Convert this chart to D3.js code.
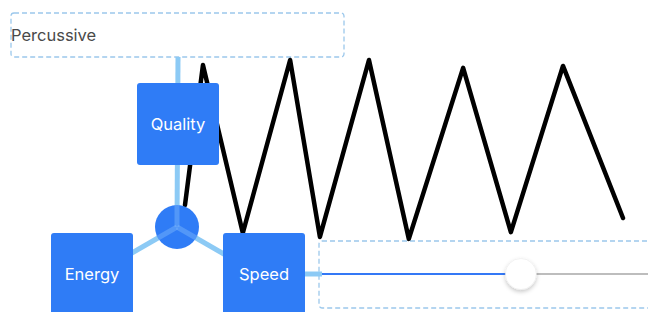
<!DOCTYPE html>
<html>
<head>
<meta charset="utf-8">
<script src="https://cdn.jsdelivr.net/npm/d3@7"></script>
<style>
  html, body { margin: 0; padding: 0; background: #fff; }
  svg { display: block; }
</style>
</head>
<body>
<script>
// Waveform drawn (position 0..100, amplitude 0..100)
const waveX = [0, 4.1, 13.2, 24.0, 30.8, 42.0, 51.1, 63.5, 74.4, 86.3, 100];
const waveY = [19.4, 97.2, 3.9, 100, 1.7, 100, 0.6, 95.6, 4.4, 96.7, 12.2];

// Node labels
const hubNodes = ["Quality", "Energy", "Speed"];
const headerLabel = "Percussive";
// Slider value (0..1)
const sliderValue = 0.61;

const W = 648, H = 312;
const svg = d3.select("body").append("svg").attr("width", W).attr("height", H);

const defs = svg.append("defs");
const f = defs.append("filter").attr("id", "shadow").attr("x", "-50%").attr("y", "-50%").attr("width", "200%").attr("height", "200%");
f.append("feDropShadow").attr("dx", 0).attr("dy", 2).attr("stdDeviation", 2).attr("flood-color", "#000").attr("flood-opacity", 0.22);

const blue = "#2f7cf6";
const light = "#8ccaf5";
const dash = "#9cc8ec";
const font = "Inter, 'Open Sans', sans-serif";

const x = d3.scaleLinear().domain([0, 100]).range([185, 623]);
const y = d3.scaleLinear().domain([0, 100]).range([240, 60]);

// Hub geometry
const hub = { cx: 177, cy: 227, r: 22 };
const boxSize = 82;
const boxes = [
  { label: hubNodes[0], x: 137, y: 83 },
  { label: hubNodes[1], x: 51, y: 233 },
  { label: hubNodes[2], x: 223, y: 233 }
];

// Header box (dashed)
svg.append("rect").attr("x", 11).attr("y", 13).attr("width", 333).attr("height", 44)
  .attr("rx", 3).attr("fill", "#fff").attr("stroke", dash).attr("stroke-width", 1.3)
  .attr("stroke-dasharray", "5,3");
svg.append("text").attr("x", 11).attr("y", 41).text(headerLabel)
  .attr("font-family", font).attr("font-size", 16.5)
  .attr("fill", "#4a4a4a");

// Slider box (dashed)
svg.append("rect").attr("x", 319).attr("y", 241).attr("width", 340).attr("height", 67)
  .attr("rx", 3).attr("fill", "#fff").attr("stroke", dash).attr("stroke-width", 1.3)
  .attr("stroke-dasharray", "5,3");

// Connectors
const conn = svg.append("g").attr("stroke", light).attr("stroke-width", 5).attr("fill", "none");
conn.append("line").attr("x1", 178).attr("y1", 57).attr("x2", hub.cx).attr("y2", hub.cy);
const spokeLen = 58;
[210, 330].forEach(a => {
  const r = a * Math.PI / 180;
  conn.append("line").attr("x1", hub.cx).attr("y1", hub.cy)
    .attr("x2", hub.cx + spokeLen * Math.cos(r)).attr("y2", hub.cy - spokeLen * Math.sin(r));
});
conn.append("line").attr("x1", 300).attr("y1", 274).attr("x2", 322).attr("y2", 274);

// Waveform
const line = d3.line().x((d, i) => x(waveX[i])).y((d, i) => y(waveY[i]));
svg.append("path").datum(waveX).attr("d", line)
  .attr("fill", "none").attr("stroke", "#000").attr("stroke-width", 4.5)
  .attr("stroke-linejoin", "round").attr("stroke-linecap", "round");

// Boxes
const bg = svg.selectAll("g.box").data(boxes).join("g").attr("class", "box");
bg.append("rect").attr("x", d => d.x).attr("y", d => d.y).attr("width", boxSize).attr("height", boxSize)
  .attr("rx", 3).attr("fill", blue);
bg.append("text").attr("x", d => d.x + boxSize / 2).attr("y", d => d.y + boxSize / 2 + 6)
  .attr("text-anchor", "middle").text(d => d.label)
  .attr("font-family", font).attr("font-size", 16.5)
  .attr("fill", "#fff");

// Hub circle
svg.append("circle").attr("cx", hub.cx).attr("cy", hub.cy).attr("r", hub.r).attr("fill", blue);
const ygrp = svg.append("g").attr("stroke", "#7fb8fa").attr("stroke-opacity", 0.45).attr("stroke-width", 5);
[90, 210, 330].forEach(a => {
  const r = a * Math.PI / 180;
  ygrp.append("line").attr("x1", hub.cx).attr("y1", hub.cy)
    .attr("x2", hub.cx + hub.r * Math.cos(r)).attr("y2", hub.cy - hub.r * Math.sin(r));
});

// Slider
const sx = d3.scaleLinear().domain([0, 1]).range([322, 648]);
svg.append("line").attr("x1", sx(sliderValue)).attr("x2", sx(1)).attr("y1", 274).attr("y2", 274)
  .attr("stroke", "#bdbdbd").attr("stroke-width", 2);
svg.append("line").attr("x1", sx(0)).attr("x2", sx(sliderValue)).attr("y1", 274).attr("y2", 274)
  .attr("stroke", "#3478f6").attr("stroke-width", 2);
svg.append("circle").attr("cx", sx(sliderValue)).attr("cy", 274).attr("r", 15.5)
  .attr("fill", "#fff").attr("stroke", "#e6e6e6").attr("stroke-width", 0.5)
  .attr("filter", "url(#shadow)");
</script>
</body>
</html>
